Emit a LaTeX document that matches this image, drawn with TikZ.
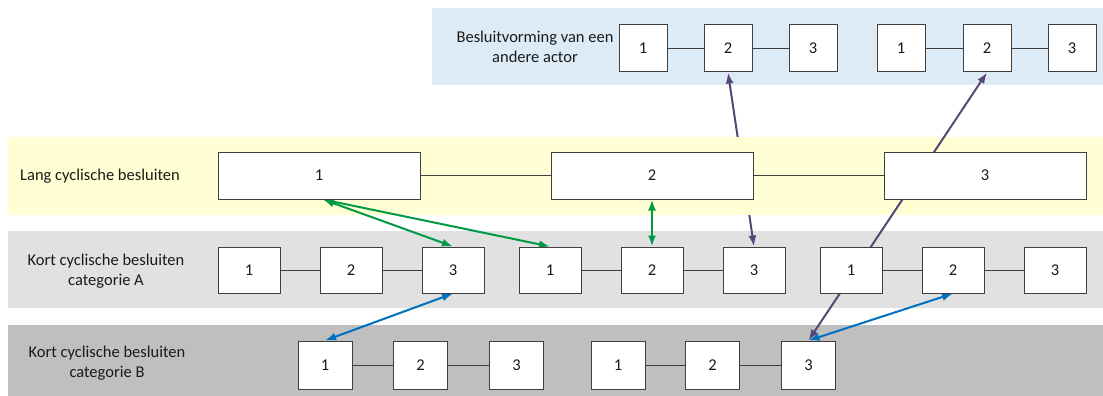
\documentclass[tikz,border=0pt]{standalone}
\usepackage{fontspec}
\setmainfont{Carlito}
\usetikzlibrary{arrows.meta}

\definecolor{bandblue}{HTML}{DDEBF7}
\definecolor{bandyellow}{HTML}{FFFFD3}
\definecolor{bandlight}{HTML}{E1E1E1}
\definecolor{banddark}{HTML}{BFBFBF}
\definecolor{boxline}{HTML}{3F3F3F}
\definecolor{arrgreen}{HTML}{009A46}
\definecolor{arrblue}{HTML}{0070C0}
\definecolor{arrpurple}{HTML}{574677}
\definecolor{txt}{HTML}{1A1A1A}

\pgfdeclarelayer{bandlow}
\pgfdeclarelayer{under}
\pgfdeclarelayer{bandhigh}
\pgfdeclarelayer{arrows}
\pgfsetlayers{bandlow,under,bandhigh,arrows,main}

\tikzset{
  every node/.style={text=txt, font=\fontsize{16.5}{19.5}\selectfont},
  stepbox/.style={draw=boxline, fill=white, line width=1pt, inner sep=0pt},
  smallbox/.style={stepbox, minimum width=48pt, minimum height=47pt},
  longbox/.style={stepbox, minimum width=202pt, minimum height=47pt},
  abox/.style={stepbox, minimum width=62pt, minimum height=46pt},
  bbox/.style={stepbox, minimum width=54pt, minimum height=48pt},
  link/.style={draw=boxline, line width=0.9pt},
  band/.style={draw=none, inner sep=0pt, anchor=north west},
  rowlabel/.style={align=center},
  dbl/.style={line width=2pt, {Latex[length=11pt,width=8pt]}-{Latex[length=11pt,width=8pt]}},
  sgl/.style={line width=2pt, -{Latex[length=11pt,width=8pt]}}
}

\begin{document}
\begin{tikzpicture}[x=1pt, y=-1pt]
\useasboundingbox (0,0) rectangle (1103,396);

% horizontal bands
\begin{pgfonlayer}{bandlow}
  \node[band, fill=bandblue, minimum width=671pt, minimum height=77pt] (bandB) at (432,8) {};
  \node[band, fill=bandlight, minimum width=1095pt, minimum height=77pt] (bandA) at (8,231) {};
  \node[band, fill=banddark, minimum width=1095pt, minimum height=71pt] (bandC) at (8,325) {};
\end{pgfonlayer}
\begin{pgfonlayer}{bandhigh}
  \node[band, fill=bandyellow, minimum width=1095pt, minimum height=78pt] (bandY) at (8,137) {};
\end{pgfonlayer}

% row labels
\node[rowlabel] (lblactor) at (535,47) {Besluitvorming van een\\andere actor};
\node[rowlabel] (lbllang) at (100,176) {Lang cyclische besluiten};
\node[rowlabel] (lblA) at (106,271) {Kort cyclische besluiten\\categorie A};
\node[rowlabel] (lblB) at (107,363) {Kort cyclische besluiten\\categorie B};

% decision steps of the other actor
\node[smallbox] (o1) at (643,48.5) {1};
\node[smallbox] (o2) at (728,48.5) {2};
\node[smallbox] (o3) at (813,48.5) {3};
\node[smallbox] (o4) at (901,48.5) {1};
\node[smallbox] (o5) at (987,48.5) {2};
\node[smallbox] (o6) at (1072,48.5) {3};

% long-cycle decisions
\node[longbox] (l1) at (319,175.5) {1};
\node[longbox] (l2) at (652,175.5) {2};
\node[longbox] (l3) at (985,175.5) {3};

% short-cycle decisions, category A
\node[abox] (a1) at (249,270) {1};
\node[abox] (a2) at (351,270) {2};
\node[abox] (a3) at (453,270) {3};
\node[abox] (a4) at (550,270) {1};
\node[abox] (a5) at (652,270) {2};
\node[abox] (a6) at (754,270) {3};
\node[abox] (a7) at (851,270) {1};
\node[abox] (a8) at (953,270) {2};
\node[abox] (a9) at (1055,270) {3};

% short-cycle decisions, category B
\node[bbox] (b1) at (325,365) {1};
\node[bbox] (b2) at (420.5,365) {2};
\node[bbox] (b3) at (516.5,365) {3};
\node[bbox] (b4) at (618,365) {1};
\node[bbox] (b5) at (712.5,365) {2};
\node[bbox] (b6) at (808.5,365) {3};

% sequence links
\foreach \p/\q in {o1/o2,o2/o3,o4/o5,o5/o6,l1/l2,l2/l3,
                   a1/a2,a2/a3,a4/a5,a5/a6,a7/a8,a8/a9,
                   b1/b2,b2/b3,b4/b5,b5/b6}
  \draw[link] (\p) -- (\q);

% dependency passing behind the long-cycle band
\begin{pgfonlayer}{under}
  \draw[dbl, draw=arrpurple, fill=arrpurple] (o2.south) -- (a6.north);
\end{pgfonlayer}

% dependencies between the rows
\begin{pgfonlayer}{arrows}
  \draw[dbl, draw=arrpurple, fill=arrpurple] (o5.south) -- (b6.north);
  \draw[dbl, draw=arrgreen, fill=arrgreen] ([xshift=4pt]l1.south) -- (a3.north);
  \draw[dbl, draw=arrgreen, fill=arrgreen] ([xshift=4pt]l1.south) -- (a4.north);
  \draw[dbl, draw=arrgreen, fill=arrgreen] (l2.south) -- (a5.north);
  \draw[dbl, draw=arrblue, fill=arrblue] (a3.south) -- (b1.north);
  \draw[dbl, draw=arrblue, fill=arrblue] (a8.south) -- (b6.north);
\end{pgfonlayer}
\end{tikzpicture}
\end{document}
